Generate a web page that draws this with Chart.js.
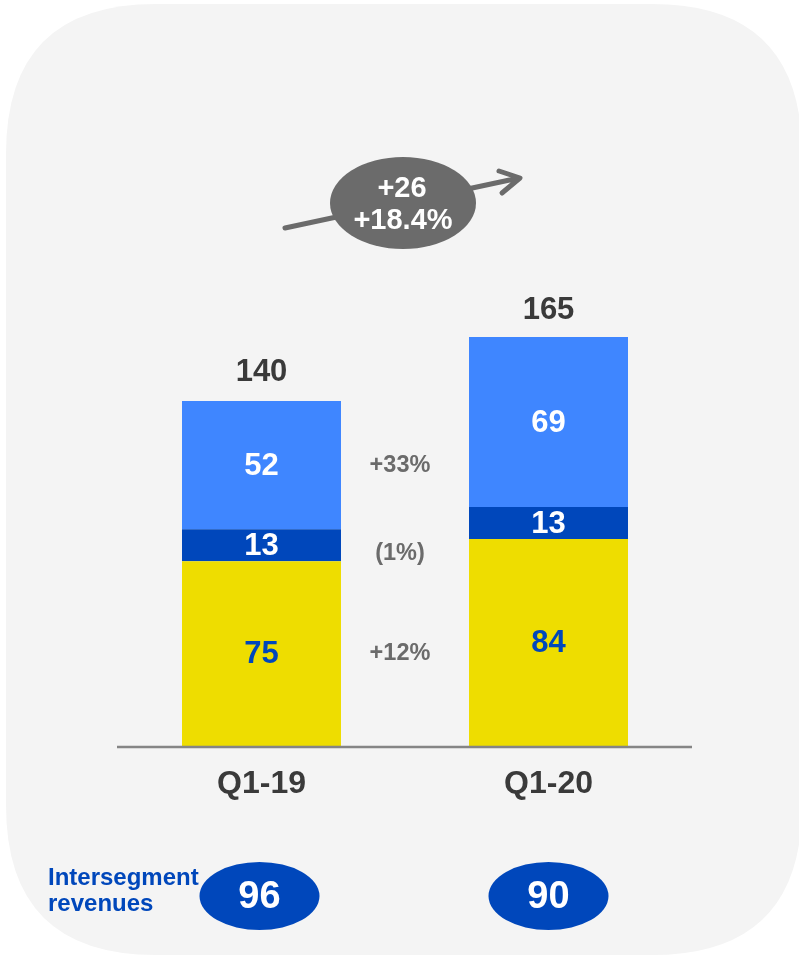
<!DOCTYPE html>
<html>
<head>
<meta charset="utf-8">
<title>Revenues Q1-19 vs Q1-20</title>
<script src="https://cdn.jsdelivr.net/npm/chart.js@4"></script>
<style>
  html, body { margin: 0; padding: 0; background: #ffffff; }
  #wrap { position: relative; width: 799px; height: 957px; }
</style>
</head>
<body>
<div id="wrap"><canvas id="revChart"></canvas></div>
<script>
// Quarters and segment values (EUR m)
const quarters = ['Q1-19', 'Q1-20'];
const baseSegment = [75, 84];      // yellow
const midSegment = [13, 13];       // dark blue
const topSegment = [52, 69];       // light blue
const totals = [140, 165];
const growthLabels = ['+12%', '(1%)', '+33%'];   // yellow, dark blue, light blue
const intersegment = [96, 90];
const totalChange = ['+26', '+18.4%'];

const FONT = '"Liberation Sans", Arial, sans-serif';
const YELLOW = '#eedd00';
const DARK_BLUE = '#0047bb';
const LIGHT_BLUE = '#3f86ff';
const GREY = '#6b6b6b';
const TEXT_DARK = '#3a3a3a';

// text with optional horizontal stretch
function label(ctx, text, x, y, size, color, sx, align) {
  ctx.save();
  ctx.translate(x, y);
  ctx.scale(sx || 1, 1);
  ctx.font = 'bold ' + size + 'px ' + FONT;
  ctx.fillStyle = color;
  ctx.textAlign = align || 'center';
  ctx.textBaseline = 'middle';
  ctx.fillText(text, 0, 0);
  ctx.restore();
}

function roundRect(ctx, x, y, w, h, r) {
  ctx.beginPath();
  ctx.moveTo(x + r, y);
  ctx.lineTo(x + w - r, y);
  ctx.quadraticCurveTo(x + w, y, x + w, y + r);
  ctx.lineTo(x + w, y + h - r);
  ctx.quadraticCurveTo(x + w, y + h, x + w - r, y + h);
  ctx.lineTo(x + r, y + h);
  ctx.quadraticCurveTo(x, y + h, x, y + h - r);
  ctx.lineTo(x, y + r);
  ctx.quadraticCurveTo(x, y, x + r, y);
  ctx.closePath();
}

const backgroundPanel = {
  id: 'backgroundPanel',
  beforeDraw(chart) {
    const ctx = chart.ctx;
    ctx.save();
    roundRect(ctx, 6, 4, 796, 951, 150);
    ctx.fillStyle = '#f4f4f4';
    ctx.fill();
    ctx.restore();
  }
};

const annotations = {
  id: 'annotations',
  afterDatasetsDraw(chart) {
    const ctx = chart.ctx;
    const area = chart.chartArea;
    const x = chart.scales.x;
    const y = chart.scales.y;

    // baseline
    ctx.save();
    ctx.strokeStyle = '#858585';
    ctx.lineWidth = 2.5;
    ctx.beginPath();
    ctx.moveTo(area.left - 1, y.getPixelForValue(0) + 1);
    ctx.lineTo(area.right, y.getPixelForValue(0) + 1);
    ctx.stroke();
    ctx.restore();

    // values inside segments
    const segColors = [DARK_BLUE, '#ffffff', '#ffffff'];
    chart.data.datasets.forEach((ds, di) => {
      chart.getDatasetMeta(di).data.forEach((bar, i) => {
        const mid = (bar.y + bar.base) / 2;
        label(ctx, String(ds.data[i]), bar.x, mid + 1, 31, segColors[di]);
      });
    });

    // totals above bars, quarter names below the axis
    quarters.forEach((q, i) => {
      const cx = x.getPixelForValue(i);
      label(ctx, String(totals[i]), cx, y.getPixelForValue(totals[i]) - 29, 31, TEXT_DARK);
      label(ctx, q, cx, y.getPixelForValue(0) + 38, 32, TEXT_DARK);
    });

    // growth per segment, between the bars
    const gx = (x.getPixelForValue(0) + x.getPixelForValue(1)) / 2 - 5;
    [0, 1, 2].forEach(di => {
      const bar = chart.getDatasetMeta(di).data[0];
      const mid = (bar.y + bar.base) / 2;
      label(ctx, growthLabels[di], gx, mid + (di === 1 ? 8 : 0), 23.5, GREY);
    });

    // total change arrow with ellipse
    ctx.save();
    ctx.strokeStyle = GREY;
    ctx.lineWidth = 5;
    ctx.lineCap = 'round';
    ctx.lineJoin = 'round';
    ctx.beginPath();
    ctx.moveTo(285, 228);
    ctx.lineTo(519, 178);
    ctx.moveTo(499, 171);
    ctx.lineTo(520, 178);
    ctx.lineTo(502, 193);
    ctx.stroke();
    ctx.fillStyle = GREY;
    ctx.beginPath();
    ctx.ellipse(403, 203, 73, 46, 0, 0, Math.PI * 2);
    ctx.fill();
    ctx.restore();
    label(ctx, totalChange[0], 402, 189, 29, '#ffffff');
    label(ctx, totalChange[1], 403, 221, 29, '#ffffff');

    // intersegment revenues
    ctx.save();
    ctx.fillStyle = DARK_BLUE;
    quarters.forEach((q, i) => {
      const cx = x.getPixelForValue(i) - 2 + i * 2;
      ctx.beginPath();
      ctx.ellipse(cx, 896, 60, 34, 0, 0, Math.PI * 2);
      ctx.fill();
      label(ctx, String(intersegment[i]), cx, 898, 38, '#ffffff');
    });
    ctx.restore();
    label(ctx, 'Intersegment', 48, 878, 24, DARK_BLUE, 1, 'left');
    label(ctx, 'revenues', 48, 904, 24, DARK_BLUE, 1, 'left');
  }
};

new Chart(document.getElementById('revChart'), {
  type: 'bar',
  data: {
    labels: quarters,
    datasets: [
      { data: baseSegment, backgroundColor: YELLOW },
      { data: midSegment, backgroundColor: DARK_BLUE },
      { data: topSegment, backgroundColor: LIGHT_BLUE }
    ]
  },
  options: {
    responsive: true,
    maintainAspectRatio: false,
    animation: false,
    events: [],
    layout: { padding: { left: 118, right: 107, top: 130, bottom: 211 } },
    datasets: { bar: { categoryPercentage: 1, barPercentage: 0.554, borderWidth: 0 } },
    plugins: { legend: { display: false }, tooltip: { enabled: false } },
    scales: {
      x: { stacked: true, display: false },
      y: { stacked: true, display: false, min: 0, max: 250 }
    }
  },
  plugins: [backgroundPanel, annotations]
});
</script>
</body>
</html>
